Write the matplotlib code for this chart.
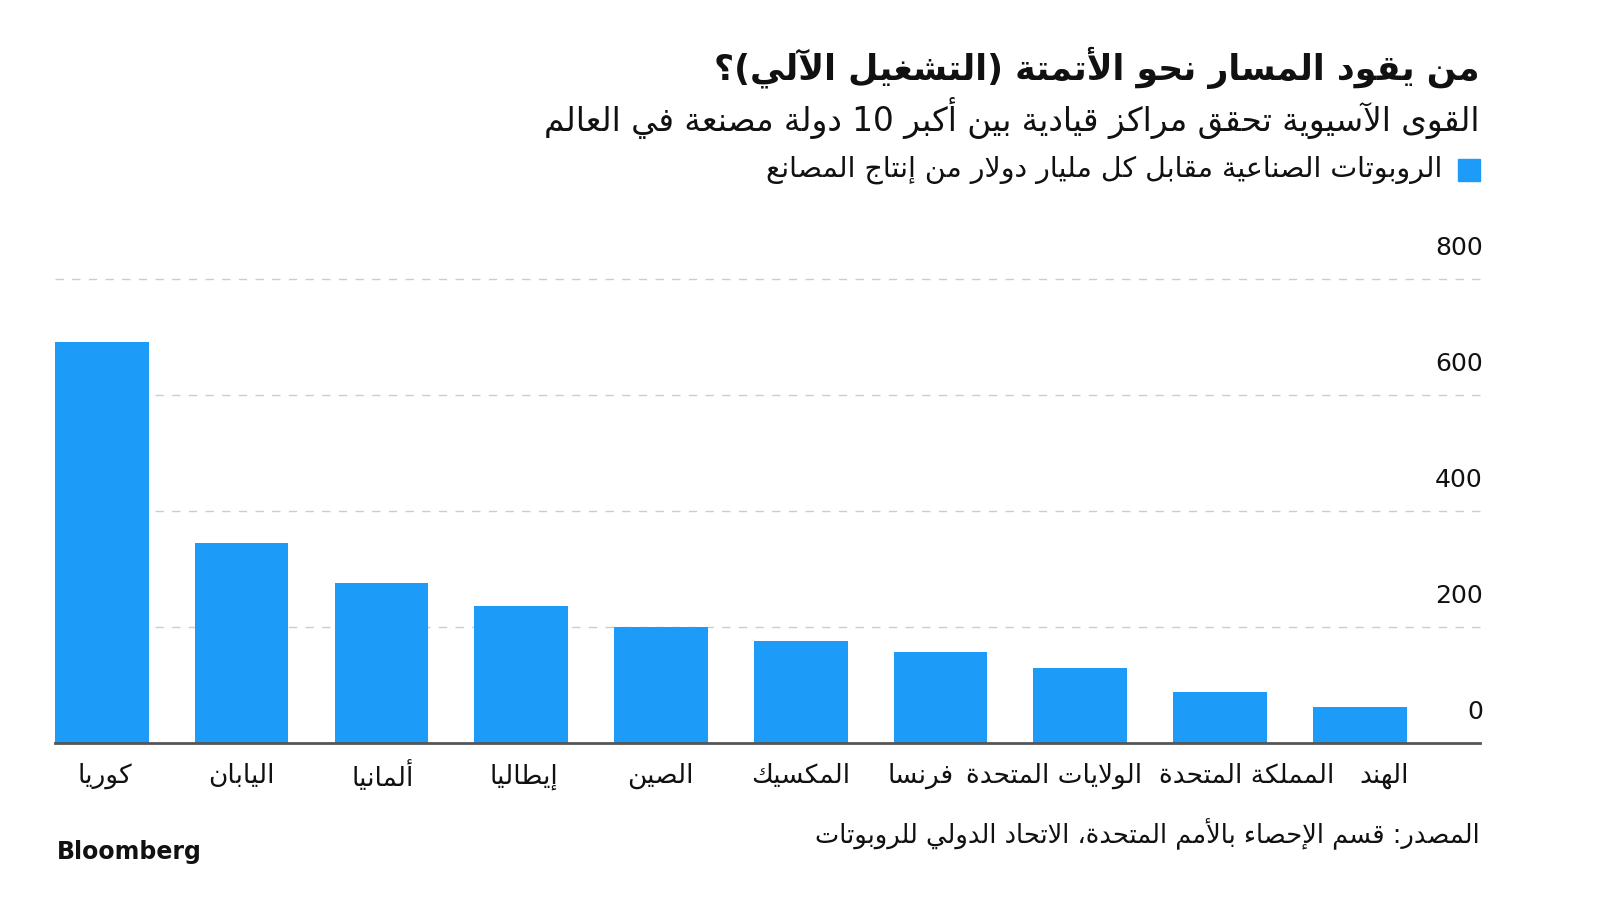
import re
import matplotlib
matplotlib.use('Agg')
import matplotlib.pyplot as plt
import matplotlib.transforms as mtransforms

plt.rcParams['font.family'] = ['DejaVu Sans']

# ------------------------------------------------------------
# Data
# ------------------------------------------------------------

countries = ['كوريا', 'اليابان', 'ألمانيا', 'إيطاليا', 'الصين', 'المكسيك',
             'فرنسا', 'الولايات المتحدة', 'المملكة المتحدة', 'الهند']
robots = [691, 345, 276, 236, 200, 176, 157, 129, 88, 62]
y_ticks = [0, 200, 400, 600, 800]

title = 'من يقود المسار نحو الأتمتة (التشغيل الآلي)؟'
subtitle = 'القوى الآسيوية تحقق مراكز قيادية بين أكبر 10 دولة مصنعة في العالم'
legend_label = 'الروبوتات الصناعية مقابل كل مليار دولار من إنتاج المصانع'
source = 'المصدر: قسم الإحصاء بالأمم المتحدة، الاتحاد الدولي للروبوتات'

bar_color = '#1d9bf8'

# ------------------------------------------------------------
# Minimal Arabic shaping (matplotlib does no text shaping itself)
# ------------------------------------------------------------

_letters = [
    ('ء', 0xFE80, 1), ('آ', 0xFE81, 2), ('أ', 0xFE83, 2), ('ؤ', 0xFE85, 2),
    ('إ', 0xFE87, 2), ('ئ', 0xFE89, 4), ('ا', 0xFE8D, 2), ('ب', 0xFE8F, 4),
    ('ة', 0xFE93, 2), ('ت', 0xFE95, 4), ('ث', 0xFE99, 4), ('ج', 0xFE9D, 4),
    ('ح', 0xFEA1, 4), ('خ', 0xFEA5, 4), ('د', 0xFEA9, 2), ('ذ', 0xFEAB, 2),
    ('ر', 0xFEAD, 2), ('ز', 0xFEAF, 2), ('س', 0xFEB1, 4), ('ش', 0xFEB5, 4),
    ('ص', 0xFEB9, 4), ('ض', 0xFEBD, 4), ('ط', 0xFEC1, 4), ('ظ', 0xFEC5, 4),
    ('ع', 0xFEC9, 4), ('غ', 0xFECD, 4), ('ف', 0xFED1, 4), ('ق', 0xFED5, 4),
    ('ك', 0xFED9, 4), ('ل', 0xFEDD, 4), ('م', 0xFEE1, 4), ('ن', 0xFEE5, 4),
    ('ه', 0xFEE9, 4), ('و', 0xFEED, 2), ('ى', 0xFEEF, 2), ('ي', 0xFEF1, 4),
]
FORMS = {c: (start, n) for c, start, n in _letters}
LAM_ALEF = {'آ': 0xFEF5, 'أ': 0xFEF7, 'إ': 0xFEF9, 'ا': 0xFEFB}
MIRROR = {'(': ')', ')': '('}


def ar(s):
    items = []
    i = 0
    while i < len(s):
        c = s[i]
        if c == 'ل' and i + 1 < len(s) and s[i + 1] in LAM_ALEF:
            items.append((None, LAM_ALEF[s[i + 1]], 2))
            i += 2
        elif c in FORMS:
            items.append((None,) + FORMS[c])
            i += 1
        else:
            items.append((c, 0, 0))
            i += 1

    out = []
    for k, (c, start, n) in enumerate(items):
        if n == 0:
            out.append(MIRROR.get(c, c))
            continue
        prev_n = items[k - 1][2] if k > 0 else 0
        next_n = items[k + 1][2] if k + 1 < len(items) else 0
        j_prev = n >= 2 and prev_n == 4
        j_next = n == 4 and next_n >= 2
        if j_prev and j_next:
            idx = 3
        elif j_prev:
            idx = 1
        elif j_next:
            idx = 2
        else:
            idx = 0
        out.append(chr(start + idx))

    vis = ''.join(out)[::-1]
    return re.sub(r'[0-9]+', lambda m: m.group()[::-1], vis)


# ------------------------------------------------------------
# Plot
# ------------------------------------------------------------

fig = plt.figure(figsize=(16, 9), dpi=100)
ax = fig.add_axes([55 / 1600, 1 - 743 / 900, 1425 / 1600, 464 / 900])

x = list(range(len(countries)))
ax.bar(x, robots, width=0.67, color=bar_color, zorder=2)

ax.set_xlim(-0.335, 9.86)
ax.set_ylim(0, 800)

for v in y_ticks[1:]:
    ax.axhline(v, color='#cccccc', lw=1, ls=(0, (6, 6)), zorder=1, clip_on=False)
ax.axhline(0, color='#555555', lw=2, zorder=3, clip_on=False)

trans = mtransforms.blended_transform_factory(ax.transAxes, ax.transData)
for v in y_ticks:
    ax.annotate(str(v), xy=(1.0, v), xycoords=trans, xytext=(2, 17),
                textcoords='offset points', ha='right', va='baseline',
                fontsize=18, color='#111111')

# category labels, the last few nudged apart as in the original layout
shift_px = [3, 0, 1, 3, -1, 0, -20, -26, 27, 24]
for xi, name, dx in zip(x, countries, shift_px):
    ax.annotate(ar(name), xy=(xi, 0), xycoords='data', xytext=(dx * 0.72, -24),
                textcoords='offset points', ha='center', va='center',
                fontsize=19, color='#111111', annotation_clip=False)

ax.set_xticks([])
ax.set_yticks([])
for s in ax.spines.values():
    s.set_visible(False)

fig.text(1480 / 1600, 1 - 68 / 900, ar(title), ha='right', va='center',
         fontsize=25, fontweight='bold', color='#111111')
fig.text(1480 / 1600, 1 - 118 / 900, ar(subtitle), ha='right', va='center',
         fontsize=23.5, color='#111111')

fig.patches.append(plt.Rectangle((1458 / 1600, 1 - 181 / 900), 22 / 1600, 22 / 900,
                                 transform=fig.transFigure, color=bar_color, figure=fig))
fig.text(1442 / 1600, 1 - 170 / 900, ar(legend_label), ha='right', va='center',
         fontsize=20.5, color='#111111')

fig.text(1480 / 1600, 1 - 834 / 900, ar(source), ha='right', va='center',
         fontsize=18.5, color='#111111')
fig.text(57 / 1600, 1 - 852 / 900, 'Bloomberg', ha='left', va='center',
         fontsize=17, fontweight='bold', color='#111111')

fig.savefig('out.png', dpi=100, facecolor='white')
